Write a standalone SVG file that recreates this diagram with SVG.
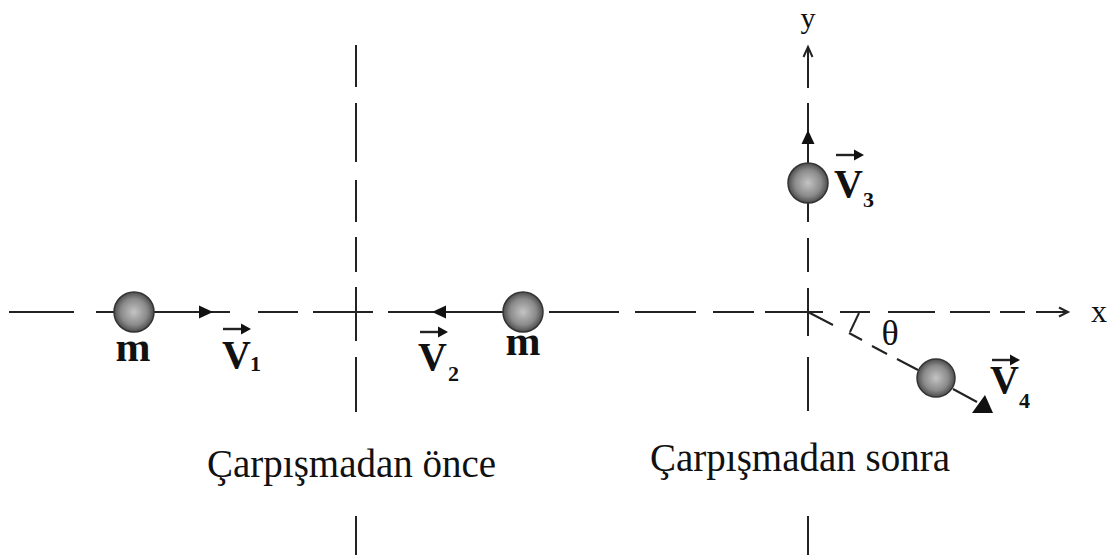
<svg xmlns="http://www.w3.org/2000/svg" width="1117" height="559" viewBox="0 0 1117 559">
<style>
.ln{stroke:#222;stroke-width:2;fill:none}
.sh{stroke:#222;stroke-width:2.4;fill:none}
.ah{fill:#111;stroke:none}
.lbl{font-family:"Liberation Serif","Times New Roman",serif;fill:#111}
.b{font-weight:bold}
.ball{fill:url(#bg);stroke:#333;stroke-width:1.5}
</style>
<defs>
<radialGradient id="bg" cx="0.5" cy="0.5" r="0.55">
<stop offset="0" stop-color="#c4c4c4"/>
<stop offset="0.6" stop-color="#8a8a8a"/>
<stop offset="1" stop-color="#3a3a3a"/>
</radialGradient>
</defs>
<rect width="1117" height="559" fill="#fff"/>
<g id="connectors">
<path class="ln" d="M9 312H74M96 312H230M258 312H298M313 312H373M388 312H503M549 312H619M635 312H696M713 312H754M765 312H823M840 312H870M888 312H935M950 312H990M1000 312H1025M1036 312H1068"/>
<path class="ln" d="M1059 307.5L1068 312L1059 316.5"/>
<path class="ln" d="M356 45V87M356 103V162M356 180V222M356 237V272M356 287V341M356 357V412M356 516V555"/>
<path class="ln" d="M808 47V88M808 103V163M808 203V222M808 238V272M808 288V336M808 357V411M808 516V555"/>
<path class="ln" d="M803.5 57L808 47L812.5 57"/>
<path class="ln" d="M808 312L833 325M849 333L862 340M872 346L887 354M897 359L918 370M953 389L977 402"/>
<path class="ln" d="M859 313L850 332"/>
</g>
<g id="ball1">
<circle class="ball" cx="134" cy="312" r="20"/>
<path class="ah" d="M213 312L199 305.5V318.5Z"/>
<text class="lbl b" x="133" y="361" font-size="42" text-anchor="middle">m</text>
<path class="sh" d="M223 329H242"/>
<path class="ah" d="M251 329L241 323.5V334.5Z"/>
<text class="lbl b" x="222" y="368" font-size="40">V</text>
<text class="lbl b" x="250" y="371" font-size="22">1</text>
</g>
<g id="ball2">
<circle class="ball" cx="523" cy="312" r="20"/>
<path class="ah" d="M432 312L446 305.5V318.5Z"/>
<text class="lbl b" x="523" y="355" font-size="42" text-anchor="middle">m</text>
<path class="sh" d="M420 332H439"/>
<path class="ah" d="M448 332L438 326.5V337.5Z"/>
<text class="lbl b" x="418" y="370" font-size="40">V</text>
<text class="lbl b" x="448" y="381" font-size="22">2</text>
</g>
<g id="ball3">
<circle class="ball" cx="808" cy="183" r="20"/>
<path class="ah" d="M808 130L801.5 144H814.5Z"/>
<path class="sh" d="M836 155H855"/>
<path class="ah" d="M864 155L854 149.5V160.5Z"/>
<text class="lbl b" x="834" y="197" font-size="40">V</text>
<text class="lbl b" x="863" y="207" font-size="22">3</text>
</g>
<g id="ball4">
<circle class="ball" cx="936" cy="378" r="19"/>
<path class="ah" d="M972 413L993 413L985 395Z"/>
<path class="sh" d="M992 360H1011"/>
<path class="ah" d="M1020 360L1010 354.5V365.5Z"/>
<text class="lbl b" x="990" y="393" font-size="40">V</text>
<text class="lbl b" x="1019" y="408" font-size="22">4</text>
<text class="lbl" x="890" y="345" font-size="36" text-anchor="middle">θ</text>
</g>
<g id="axis-labels">
<text class="lbl" x="808" y="28" font-size="30" text-anchor="middle">y</text>
<text class="lbl" x="1099" y="322" font-size="32" text-anchor="middle">x</text>
</g>
<g id="captions">
<text class="lbl" x="207" y="477" font-size="39">Çarpışmadan önce</text>
<text class="lbl" x="650" y="471" font-size="39">Çarpışmadan sonra</text>
</g>
</svg>
